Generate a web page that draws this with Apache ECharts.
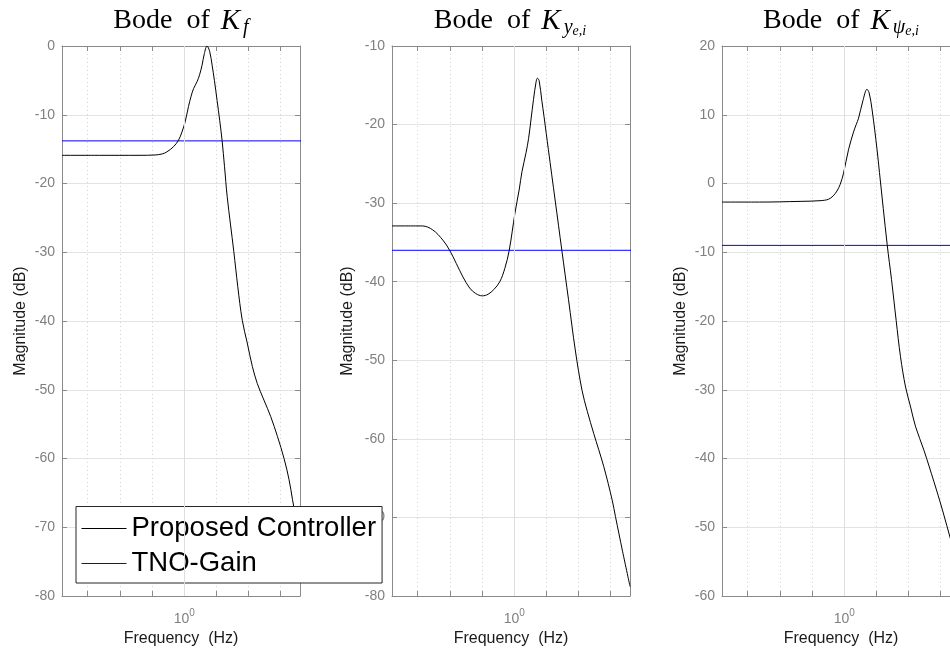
<!DOCTYPE html>
<html>
<head>
<meta charset="utf-8">
<script src="https://cdn.jsdelivr.net/npm/echarts@6/dist/echarts.min.js"></script>
<style>
html, body { margin: 0; padding: 0; background: #fff; }
#main { width: 950px; height: 648px; }
</style>
</head>
<body>
<div id="main"></div>
<script>
// frequencies in Hz, magnitudes in dB
var freqKf = [0.417, 0.546, 0.729, 0.812, 0.854, 0.883, 0.926, 0.960, 0.984, 1.007, 1.031, 1.049, 1.069, 1.096, 1.116, 1.136, 1.155, 1.177, 1.200, 1.221, 1.241, 1.265, 1.289, 1.311, 1.334, 1.360, 1.426, 1.467, 1.515, 1.570, 1.628, 1.687, 1.769, 1.857, 1.949, 2.043, 2.118, 2.171, 2.239, 2.304];
var magKf = [-15.9, -15.9, -15.9, -15.85, -15.7, -15.4, -14.65, -13.7, -12.5, -11.0, -8.8, -7.4, -6.2, -5.2, -4.2, -2.8, -1.1, 0.0, -0.8, -2.8, -5.0, -7.9, -10.8, -13.7, -17.5, -21.9, -29.9, -35.0, -39.9, -43.2, -46.6, -49.1, -51.5, -53.9, -56.8, -60.0, -63.1, -66.0, -69.5, -72.5];

var freqKy = [0.417, 0.518, 0.558, 0.600, 0.630, 0.661, 0.693, 0.727, 0.759, 0.796, 0.829, 0.864, 0.902, 0.935, 0.965, 1.005, 1.037, 1.057, 1.088, 1.108, 1.128, 1.148, 1.169, 1.180, 1.195, 1.218, 1.238, 1.277, 1.340, 1.406, 1.475, 1.548, 1.624, 1.687, 1.766, 1.897, 2.016, 2.064, 2.171, 2.291];
var magKy = [-32.9, -32.9, -33.4, -34.7, -36.0, -37.7, -39.4, -40.8, -41.5, -41.8, -41.6, -41.0, -40.0, -38.3, -36.0, -31.3, -28.2, -26.0, -23.6, -21.8, -19.3, -16.8, -14.6, -14.1, -14.4, -16.9, -19.0, -23.2, -29.6, -36.0, -42.3, -48.7, -53.8, -56.5, -59.3, -63.5, -67.8, -69.9, -74.3, -78.8];

var freqKpsi = [0.417, 0.546, 0.729, 0.841, 0.893, 0.924, 0.949, 0.972, 0.995, 1.031, 1.069, 1.090, 1.108, 1.144, 1.177, 1.195, 1.221, 1.265, 1.287, 1.360, 1.403, 1.450, 1.496, 1.551, 1.608, 1.667, 1.769, 1.901, 2.020, 2.145, 2.304];
var magKpsi = [-2.7, -2.7, -2.6, -2.5, -2.3, -1.8, -1.1, -0.1, 1.5, 4.9, 7.5, 8.6, 9.5, 12.1, 13.7, 13.2, 10.7, 4.9, 1.6, -8.9, -14.0, -19.9, -25.2, -29.6, -32.5, -35.4, -38.8, -43.4, -47.5, -51.9, -57.0];

// TNO-Gain (constant)
var tnoKf = -13.8;
var tnoKy = -36.0;
var tnoKpsi = -9.0;

var freqRange = [0.417, 2.29];         // Hz, x limits
var gridTicks = [-0.3, -0.2, -0.1, 0, 0.1, 0.2, 0.3]; // log10(Hz)
var yRanges = [[-80, 0], [-80, -10], [-60, 20]];

var myChart = echarts.init(document.getElementById('main'));

var gray = '#808080';
var lineGray = '#8a8a8a';
var sans = 'Liberation Sans';
var serif = 'Liberation Serif';

var lefts = [62, 392, 722];
var centers = [181, 510, 841];
var yNameGaps = [33, 36, 33];

function lg(f) { return Math.log10(f); }
function toXY(freq, mag) {
    var out = [];
    for (var i = 0; i < freq.length; i++) out.push([lg(freq[i]), mag[i]]);
    return out;
}

var grids = [], xAxes = [], yAxes = [], series = [], titles = [];

var titleRich = {
    t: { fontFamily: serif, fontWeight: 'normal', fontSize: 28, color: '#000', lineHeight: 34, padding: [0, 14, 0, 0] },
    o: { fontFamily: serif, fontWeight: 'normal', fontSize: 28, color: '#000', lineHeight: 34, padding: [0, 11, 0, 0] },
    k: { fontFamily: serif, fontWeight: 'normal', fontStyle: 'italic', fontSize: 29, color: '#000', lineHeight: 34, padding: [0, 3, 0, 0] },
    s: { fontFamily: serif, fontWeight: 'normal', fontStyle: 'italic', fontSize: 20, color: '#000', lineHeight: 19, verticalAlign: 'bottom' },
    ss: { fontFamily: serif, fontWeight: 'normal', fontStyle: 'italic', fontSize: 14, color: '#000', lineHeight: 12, verticalAlign: 'bottom' }
};
var titleTexts = [
    '{t|Bode}{o|of}{k|K}{s|f}',
    '{t|Bode}{o|of}{k|K}{s|y}{ss|e,i}',
    '{t|Bode}{o|of}{k|K}{s|ψ}{ss|e,i}'
];

var curves = [toXY(freqKf, magKf), toXY(freqKy, magKy), toXY(freqKpsi, magKpsi)];
var tnos = [tnoKf, tnoKy, tnoKpsi];

for (var p = 0; p < 3; p++) {
    grids.push({ left: lefts[p], top: 46, width: 238, height: 550, containLabel: false, outerBoundsMode: 'none' });
    titles.push({
        text: titleTexts[p],
        left: centers[p], top: 4, textAlign: 'center', padding: 0,
        textStyle: { fontWeight: 'normal', rich: titleRich }
    });
    // bottom axis: minor ticks + dotted grid, label 10^0
    xAxes.push({
        type: 'value', gridIndex: p, position: 'bottom',
        min: lg(freqRange[0]), max: lg(freqRange[1]),
        axisLine: { show: true, onZero: false, lineStyle: { color: lineGray, width: 1 } },
        axisTick: { show: true, inside: true, length: 5, customValues: gridTicks, lineStyle: { color: lineGray } },
        axisLabel: {
            customValues: [0], margin: 12,
            formatter: function () { return '{b|10}{s|0}'; },
            rich: {
                b: { fontFamily: sans, fontSize: 14, color: gray, lineHeight: 22 },
                s: { fontFamily: sans, fontSize: 10, color: gray, lineHeight: 12, verticalAlign: 'top' }
            }
        },
        splitLine: { show: true, lineStyle: { color: '#d4d4d4', type: [1, 3], width: 1 } },
        name: 'Frequency  (Hz)', nameLocation: 'middle', nameGap: 30.5,
        nameTextStyle: { fontFamily: sans, fontSize: 16, color: '#1a1a1a' }
    });
    // top axis: box edge
    xAxes.push({
        type: 'value', gridIndex: p, position: 'top',
        min: lg(freqRange[0]), max: lg(freqRange[1]),
        axisLine: { show: true, onZero: false, lineStyle: { color: lineGray, width: 1 } },
        axisTick: { show: true, inside: true, length: 5, customValues: gridTicks, lineStyle: { color: lineGray } },
        axisLabel: { show: false },
        splitLine: { show: false }
    });
    yAxes.push({
        type: 'value', gridIndex: p, position: 'left',
        min: yRanges[p][0], max: yRanges[p][1], interval: 10,
        axisLine: { show: true, onZero: false, lineStyle: { color: lineGray, width: 1 } },
        axisTick: { show: true, inside: true, length: 5, lineStyle: { color: lineGray } },
        axisLabel: { fontFamily: sans, fontSize: 14, color: gray, margin: 7 },
        splitLine: { show: true, lineStyle: { color: '#e3e3e3', width: 1 } },
        name: 'Magnitude (dB)', nameLocation: 'middle', nameGap: yNameGaps[p],
        nameTextStyle: { fontFamily: sans, fontSize: 16, color: '#1a1a1a' }
    });
    yAxes.push({
        type: 'value', gridIndex: p, position: 'right',
        min: yRanges[p][0], max: yRanges[p][1], interval: 10,
        axisLine: { show: true, onZero: false, lineStyle: { color: lineGray, width: 1 } },
        axisTick: { show: true, inside: true, length: 5, lineStyle: { color: lineGray } },
        axisLabel: { show: false },
        splitLine: { show: false }
    });

    series.push({
        name: 'TNO-Gain', type: 'line', xAxisIndex: 2 * p, yAxisIndex: 2 * p,
        symbol: 'none', showSymbol: false, animation: false,
        color: '#0000ff',
        lineStyle: { color: '#0000ff', width: 1 },
        itemStyle: { color: '#0000ff' },
        data: [[lg(freqRange[0]), tnos[p]], [lg(freqRange[1]) + 0.01, tnos[p]]],
        markLine: {
            silent: true, symbol: 'none', animation: false,
            label: { show: false },
            lineStyle: { color: '#dedede', type: 'solid', width: 1 },
            data: [{ xAxis: 0 }]
        }
    });
    series.push({
        name: 'Proposed Controller', type: 'line', xAxisIndex: 2 * p, yAxisIndex: 2 * p,
        symbol: 'none', showSymbol: false, animation: false,
        smooth: 0.35,
        color: '#000000',
        lineStyle: { color: '#000', width: 1 },
        itemStyle: { color: '#000' },
        data: curves[p]
    });
}

myChart.setOption({
    animation: false,
    title: titles,
    legend: {
        data: [
            { name: 'Proposed Controller', lineStyle: { color: '#000000', width: 1 } },
            { name: 'TNO-Gain', lineStyle: { color: '#0000ff', width: 1 } }
        ],
        orient: 'vertical', left: 76, top: 506.5,
        itemWidth: 45, itemHeight: 14,
        itemStyle: { opacity: 0 },
        backgroundColor: '#fff', borderColor: '#262626', borderWidth: 1,
        padding: [8, 6, 5.5, 5], itemGap: 7,
        selectedMode: false,
        textStyle: { fontFamily: sans, fontSize: 27.5, lineHeight: 28, color: '#000' }
    },
    grid: grids,
    xAxis: xAxes,
    yAxis: yAxes,
    series: series
});
</script>
</body>
</html>
